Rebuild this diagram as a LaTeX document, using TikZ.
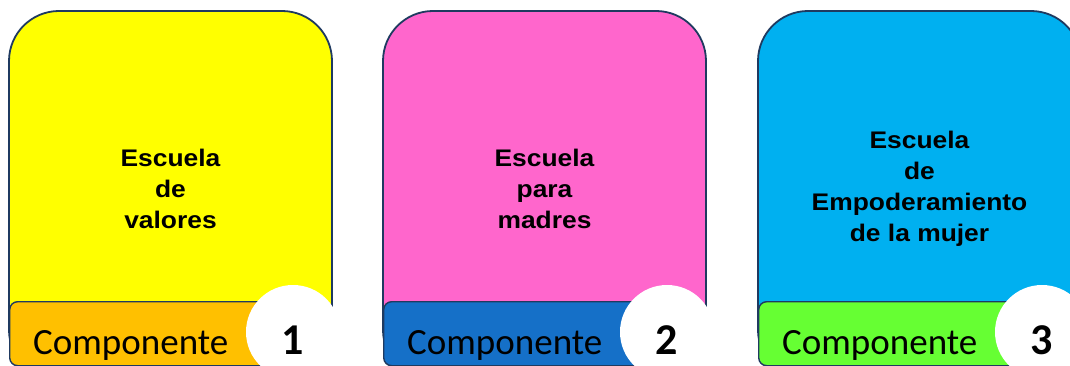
\documentclass[tikz,border=0pt]{standalone}
\usepackage{fontspec}
\setmainfont{Liberation Sans}
\newfontfamily\carlito{Carlito}
\usepackage{xcolor}
\usepackage{tikz}
\usetikzlibrary{positioning}

\definecolor{bordeazul}{HTML}{1F3A60}
\definecolor{amarillo}{HTML}{FFFF00}
\definecolor{rosa}{HTML}{FF66CC}
\definecolor{celeste}{HTML}{00B0F0}
\definecolor{naranja}{HTML}{FFC000}
\definecolor{azul}{HTML}{1570C8}
\definecolor{verde}{HTML}{66FF33}

\begin{document}
\begin{tikzpicture}[x=1pt, y=-1pt]
    % Estilos
    \tikzset{
        card/.style     = {rectangle, draw=bordeazul, line width=1.8pt, rounded corners=50pt, minimum width=323pt, minimum height=369pt, inner sep=0pt},
        cardtext/.style = {align=center, xscale=1.1, font=\fontsize{24}{31}\selectfont\bfseries},
        tab/.style      = {rectangle, draw=bordeazul, line width=1.4pt, rounded corners=8pt, minimum width=290pt, minimum height=64pt, anchor=north west, inner sep=0pt},
        comp/.style     = {anchor=base west, inner sep=0pt, font=\carlito\fontsize{37}{37}\selectfont},
        circ/.style     = {circle, fill=white, minimum size=94pt, inner sep=0pt},
        num/.style      = {anchor=base, inner sep=0pt, font=\carlito\fontsize{44}{44}\selectfont\bfseries}
    }

    \useasboundingbox (0,0) rectangle (1070,366);
    \clip (0,0) rectangle (1070,366);

    % Componente 1
    \node [card, fill=amarillo] (card1) at (170.5,195.5) {};
    \node [cardtext] (txt1) at (170.5,189) {Escuela\\de\\valores};
    \node [tab, fill=naranja] (tab1) at (9,301) {};
    \node [comp] (comp1) at (33,354) {Componente};
    \node [circ] (circ1) at (293,332) {};
    \node [num] (num1) at (293,354) {1};

    % Componente 2
    \node [card, fill=rosa] (card2) at (544.5,195.5) {};
    \node [cardtext] (txt2) at (544.5,189) {Escuela\\para\\madres};
    \node [tab, fill=azul] (tab2) at (383,301) {};
    \node [comp] (comp2) at (407,354) {Componente};
    \node [circ] (circ2) at (667,332) {};
    \node [num] (num2) at (667,354) {2};

    % Componente 3
    \node [card, fill=celeste] (card3) at (919.5,195.5) {};
    \node [cardtext] (txt3) at (919.5,189) {Escuela\\de\\Empoderamiento\\de la mujer};
    \node [tab, fill=verde] (tab3) at (758,301) {};
    \node [comp] (comp3) at (782,354) {Componente};
    \node [circ] (circ3) at (1042,332) {};
    \node [num] (num3) at (1042,354) {3};
\end{tikzpicture}
\end{document}
